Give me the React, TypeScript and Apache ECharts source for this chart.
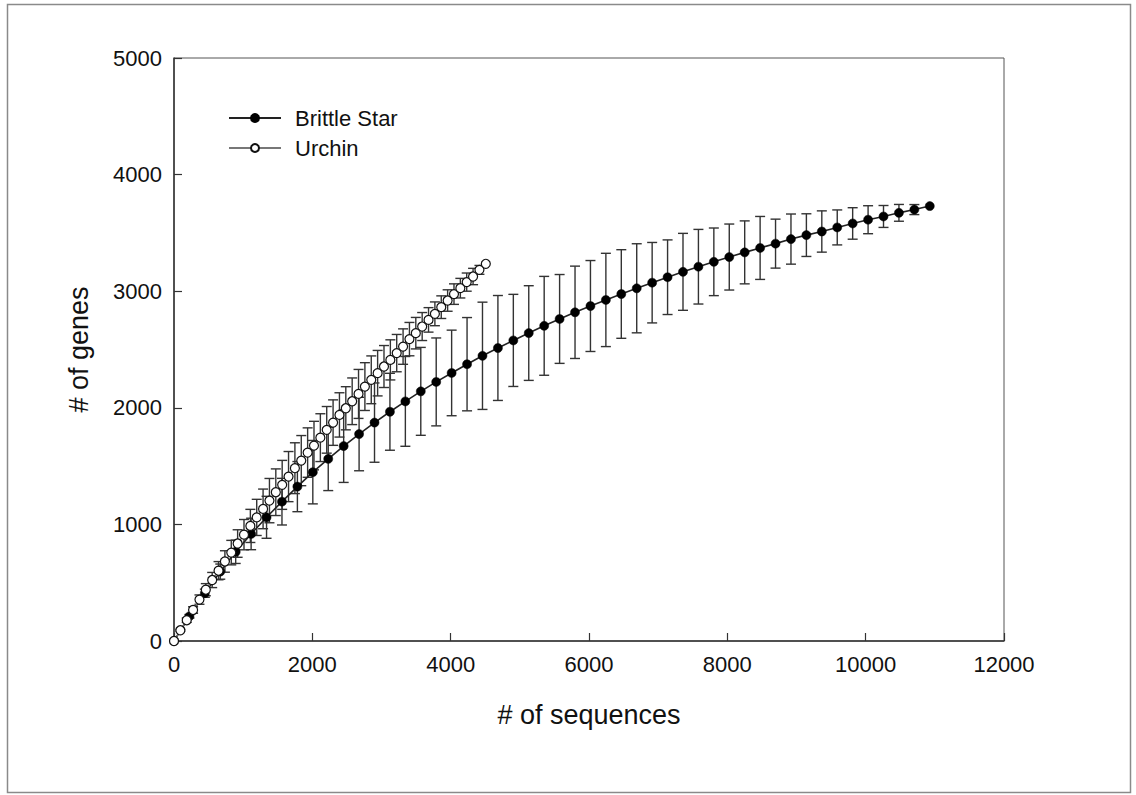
import React, { useEffect, useRef } from "react";
import * as echarts from "echarts";

// ---- data ----
const seriesNames = ["Brittle Star", "Urchin"];

const brittleX = [
  0, 223, 446, 669, 892, 1115, 1338, 1561, 1784, 2007,
  2230, 2453, 2676, 2899, 3122, 3345, 3568, 3791, 4014, 4237,
  4460, 4683, 4906, 5129, 5352, 5575, 5798, 6021, 6244, 6467,
  6690, 6913, 7136, 7359, 7582, 7805, 8028, 8251, 8474, 8697,
  8920, 9143, 9366, 9589, 9812, 10035, 10258, 10481, 10704, 10927,
];
const brittleY = [
  0, 212, 410, 595, 765, 918, 1061, 1195, 1324, 1448,
  1562, 1672, 1775, 1873, 1966, 2055, 2141, 2222, 2299, 2374,
  2446, 2513, 2578, 2641, 2703, 2762, 2819, 2873, 2925, 2976,
  3025, 3073, 3120, 3166, 3210, 3252, 3293, 3333, 3371, 3408,
  3447, 3481, 3512, 3547, 3581, 3613, 3641, 3672, 3700, 3730,
];
const brittleErr = [
  0, 15, 35, 65, 100, 135, 180, 200, 215, 272,
  272, 312, 315, 340, 330, 385, 377, 377, 367, 400,
  460, 450, 395, 406, 424, 381, 396, 390, 400, 380,
  382, 345, 320, 330, 320, 290, 283, 270, 270, 210,
  215, 183, 177, 150, 135, 120, 94, 72, 43, 0,
];

const urchinX = [
  0, 92, 184, 276, 368, 460, 552, 644, 736, 828,
  920, 1012, 1104, 1196, 1288, 1380, 1472, 1564, 1656, 1748,
  1840, 1932, 2024, 2116, 2208, 2300, 2392, 2484, 2576, 2668,
  2760, 2852, 2944, 3036, 3128, 3220, 3312, 3404, 3496, 3588,
  3680, 3772, 3864, 3956, 4048, 4140, 4232, 4324, 4416, 4508,
];
const urchinY = [
  0, 92, 178, 266, 355, 440, 523, 603, 682, 758,
  836, 912, 987, 1060, 1133, 1204, 1276, 1339, 1410, 1482,
  1547, 1616, 1676, 1744, 1811, 1873, 1939, 1996, 2056, 2119,
  2182, 2240, 2297, 2354, 2411, 2469, 2525, 2589, 2640, 2697,
  2754, 2806, 2863, 2920, 2975, 3026, 3078, 3126, 3183, 3235,
];
const urchinErr = [
  0, 8, 18, 28, 40, 52, 65, 78, 92, 105,
  118, 130, 142, 155, 170, 190, 200, 210, 215, 218,
  215, 212, 208, 205, 200, 195, 190, 185, 200, 210,
  205, 205, 195, 180, 172, 160, 152, 143, 135, 120,
  105, 102, 97, 92, 88, 84, 78, 70, 38, 0,
];

const FONT = "'Liberation Sans', Arial, sans-serif";

function errRows(xs: number[], ys: number[], es: number[]) {
  return xs.map((x, i) => [x, ys[i] - es[i], ys[i] + es[i], es[i]]);
}

function errorBarRender(params: any, api: any) {
  const x = api.value(0);
  const lo = api.value(1);
  const hi = api.value(2);
  const e = api.value(3);
  if (!e) return { type: "group", children: [] };
  const pHi = api.coord([x, hi]);
  const pLo = api.coord([x, lo]);
  const hw = 5;
  const style = { stroke: "#333", lineWidth: 1.4 };
  return {
    type: "group",
    children: [
      { type: "line", shape: { x1: pHi[0], y1: pHi[1], x2: pLo[0], y2: pLo[1] }, style },
      { type: "line", shape: { x1: pHi[0] - hw, y1: pHi[1], x2: pHi[0] + hw, y2: pHi[1] }, style },
      { type: "line", shape: { x1: pLo[0] - hw, y1: pLo[1], x2: pLo[0] + hw, y2: pLo[1] }, style },
    ],
  };
}

const plain = (v: number) => String(v);

export default function App() {
  const ref = useRef<HTMLDivElement>(null);

  useEffect(() => {
    if (!ref.current) return;
    const chart = echarts.init(ref.current, null, { renderer: "svg" });
    const option: any = {
      animation: false,
      backgroundColor: "#fff",
      textStyle: { fontFamily: FONT },
      grid: {
        left: 174,
        right: 132,
        top: 58,
        bottom: 154,
        show: true,
        borderColor: "#555",
        borderWidth: 1,
        backgroundColor: "transparent",
      },
      graphic: [
        {
          type: "rect",
          shape: { x: 7.5, y: 4.5, width: 1123, height: 788 },
          style: { fill: "none", stroke: "#8a8a8a", lineWidth: 1.5 },
          silent: true,
          z: -1,
        },
      ],
      legend: {
        orient: "vertical",
        left: 223,
        top: 102,
        itemWidth: 52,
        itemHeight: 10,
        itemGap: 8,
        data: seriesNames,
        textStyle: { fontSize: 22, color: "#111", fontFamily: FONT, padding: [0, 0, 0, 9] },
      },
      xAxis: {
        type: "value",
        min: 0,
        max: 12000,
        interval: 2000,
        name: "# of sequences",
        nameLocation: "middle",
        nameGap: 60,
        nameTextStyle: { fontSize: 27, color: "#111", fontFamily: FONT },
        axisLine: { show: true, lineStyle: { color: "#333", width: 1.5 } },
        axisTick: { show: true, inside: true, length: 8, lineStyle: { color: "#333", width: 1.2 } },
        axisLabel: { fontSize: 22, color: "#111", margin: 12, fontFamily: FONT, formatter: plain },
        splitLine: { show: false },
      },
      yAxis: {
        type: "value",
        min: 0,
        max: 5000,
        interval: 1000,
        name: "# of genes",
        nameLocation: "middle",
        nameGap: 82,
        nameTextStyle: { fontSize: 27, color: "#111", fontFamily: FONT },
        axisLine: { show: true, lineStyle: { color: "#333", width: 1.5 } },
        axisTick: { show: true, inside: true, length: 8, lineStyle: { color: "#333", width: 1.2 } },
        axisLabel: { fontSize: 22, color: "#111", margin: 12, fontFamily: FONT, formatter: plain },
        splitLine: { show: false },
      },
      series: [
        {
          name: "Brittle Star bars",
          type: "custom",
          renderItem: errorBarRender,
          data: errRows(brittleX, brittleY, brittleErr),
          encode: { x: 0, y: [1, 2] },
          silent: true,
        },
        {
          name: seriesNames[0],
          type: "line",
          data: brittleX.map((x, i) => [x, brittleY[i]]),
          symbol: "circle",
          symbolSize: 9,
          lineStyle: { color: "#222", width: 1.6 },
          itemStyle: { color: "#000", borderColor: "#000", borderWidth: 0.5 },
        },
        {
          name: "Urchin bars",
          type: "custom",
          renderItem: errorBarRender,
          data: errRows(urchinX, urchinY, urchinErr),
          encode: { x: 0, y: [1, 2] },
          silent: true,
        },
        {
          name: seriesNames[1],
          type: "line",
          data: urchinX.map((x, i) => [x, urchinY[i]]),
          symbol: "circle",
          symbolSize: 9,
          lineStyle: { color: "#777", width: 1.4 },
          itemStyle: { color: "#fff", borderColor: "#111", borderWidth: 1.2 },
        },
      ],
    };
    chart.setOption(option);
    return () => chart.dispose();
  }, []);

  return (
    <div
      ref={ref}
      style={{ position: "fixed", left: 0, top: 0, width: 1136, height: 795 }}
    />
  );
}
